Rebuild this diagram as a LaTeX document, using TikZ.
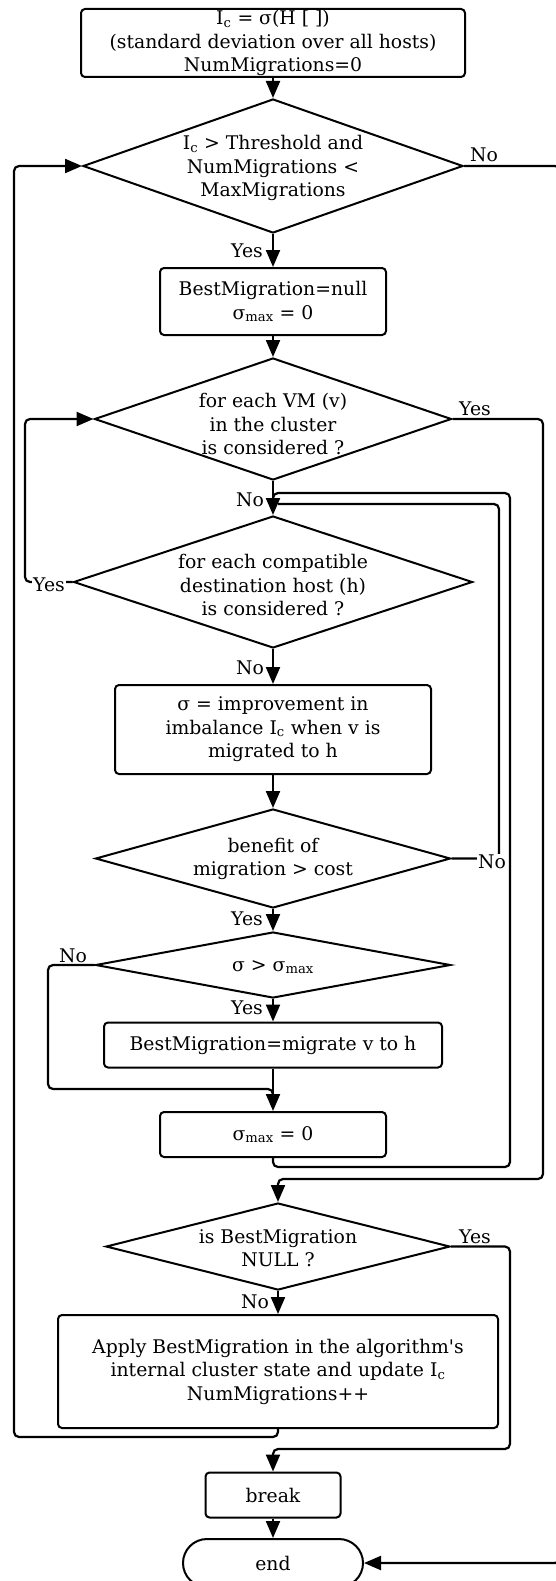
\documentclass[tikz,border=0pt]{standalone}
\usepackage{fontspec}
\setmainfont{DejaVu Serif}
\usetikzlibrary{arrows.meta,shapes.geometric,shapes.misc}
\tikzset{
  every node/.style={font=\fontsize{18.8}{23.5}\selectfont},
  proc/.style={draw, line width=2pt, rounded corners=4pt, inner sep=0pt, align=center},
  dia/.style={draw, line width=2pt, diamond, inner sep=0pt},
  txt/.style={align=center, inner sep=0pt},
  lbl/.style={inner sep=1pt},
  lblw/.style={inner sep=1pt, fill=white},
  conn/.style={line width=2.2pt, rounded corners=5pt},
  arr/.style={conn, -{Triangle[length=17pt,width=14pt]}},
  term/.style={draw, line width=2pt, rounded rectangle, inner sep=0pt}
}
\newcommand{\sub}[1]{\textsubscript{#1}}
\begin{document}
\begin{tikzpicture}[x=1pt,y=-1pt]
\useasboundingbox (0,0) rectangle (556,1581);
% nodes
\node[proc, minimum width=384pt, minimum height=68pt] (b1) at (273,43)
  {I\sub{c} = σ(H [ ])\\(standard deviation over all hosts)\\NumMigrations=0};
\node[dia, minimum width=380pt, minimum height=134pt] (d1) at (273,166) {};
\node[txt] (d1t) at (273,168) {I\sub{c} > Threshold and\\NumMigrations <\\MaxMigrations};
\node[proc, minimum width=226pt, minimum height=67pt] (b2) at (273,301.5)
  {BestMigration=null\\σ\sub{max} = 0};
\node[dia, minimum width=357pt, minimum height=122pt] (d2) at (273,419) {};
\node[txt] (d2t) at (273,424) {for each VM (v)\\in the cluster\\is considered ?};
\node[dia, minimum width=399pt, minimum height=132pt] (d3) at (273,582) {};
\node[txt] (d3t) at (273,585) {for each compatible\\destination host (h)\\is considered ?};
\node[proc, minimum width=316pt, minimum height=89pt] (b3) at (273,729.5)
  {σ = improvement in\\imbalance I\sub{c} when v is\\migrated to h};
\node[dia, minimum width=355pt, minimum height=99pt] (d4) at (273,858.5) {};
\node[txt] (d4t) at (273,859) {benefit of\\migration > cost};
\node[dia, minimum width=355pt, minimum height=66pt] (d5) at (273,965) {};
\node[txt] (d5t) at (273,967) {σ > σ\sub{max}};
\node[proc, minimum width=338pt, minimum height=45pt] (bm) at (273,1045)
  {BestMigration=migrate v to h};
\node[proc, minimum width=226pt, minimum height=45pt] (sm) at (273,1134.5)
  {σ\sub{max} = 0};
\node[dia, minimum width=344pt, minimum height=87pt] (d6) at (278,1246.5) {};
\node[txt] (d6t) at (278,1248) {is BestMigration\\NULL ?};
\node[proc, minimum width=440pt, minimum height=113pt] (ap) at (278,1371.5)
  {Apply BestMigration in the algorithm\textquotesingle s\\internal cluster state and update I\sub{c}\\NumMigrations++};
\node[proc, minimum width=135pt, minimum height=45pt] (br) at (273,1495) {break};
\node[term, minimum width=180pt, minimum height=48pt] (en) at (273,1563) {end};
% helper coordinates
\coordinate (rN) at (560,166);
\coordinate (rS) at (560,1563);
% connectors
\draw[arr] (b1.south) -- (d1.north);
\draw[arr] (d1.south) -- (b2.north);
\draw[arr] (d1.east) -- (rN) -- (rS) -- (en.east);
\draw[arr] (b2.south) -- (d2.north);
\draw[arr] (d2.east) -- (543,419) -- (543,1179) -- (278,1179) -- (d6.north);
\draw[arr] (d2.south) -- (d3.north);
\draw[arr] (d3.west) -- (25,582) -- (25,419) -- (d2.west);
\draw[arr] (d3.south) -- (b3.north);
\draw[arr] (b3.south) -- (d4.north);
\draw[conn] (d4.east) -- (499,858.5) -- (499,504) -- (278,504);
\draw[arr] (d4.south) -- (d5.north);
\draw[arr] (d5.south) -- (bm.north);
\draw[conn] (d5.west) -- (48,965) -- (48,1089) -- (273,1089) -- (273,1100);
\draw[arr] (bm.south) -- (sm.north);
\draw[conn] (sm.south) -- (273,1167) -- (510,1167) -- (510,493) -- (273,493) -- (273,499);
\draw[arr] (d6.south) -- (ap.north);
\draw[arr] (d6.east) -- (510,1246.5) -- (510,1449) -- (273,1449) -- (br.north);
\draw[arr] (ap.south) -- (278,1437) -- (14,1437) -- (14,166) -- (d1.west);
\draw[arr] (br.south) -- (en.north);
% labels
\node[lbl] (l1) at (484,155) {No};
\node[lbl] (l2) at (247,251) {Yes};
\node[lbl] (l3) at (475,409) {Yes};
\node[lbl] (l4) at (250,500) {No};
\node[lblw] (l5) at (49,585) {Yes};
\node[lbl] (l6) at (250,668) {No};
\node[lblw] (l7) at (492,862) {No};
\node[lbl] (l8) at (247,919) {Yes};
\node[lbl] (l9) at (73,956) {No};
\node[lbl] (l10) at (247,1008) {Yes};
\node[lbl] (l11) at (475,1237) {Yes};
\node[lbl] (l12) at (255,1302) {No};
\end{tikzpicture}
\end{document}
